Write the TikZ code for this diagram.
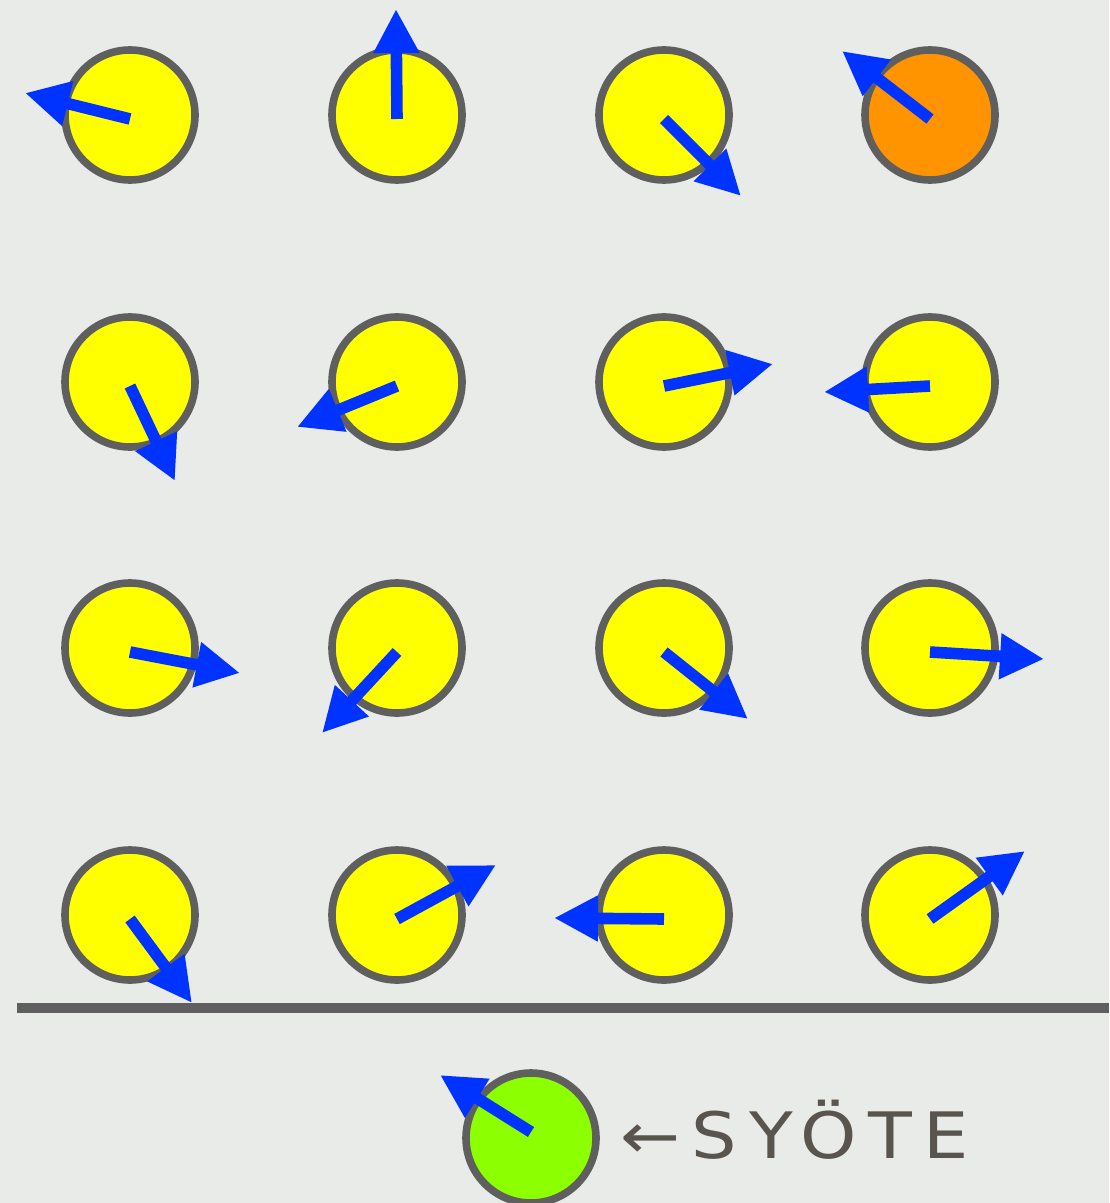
\documentclass[tikz,border=0pt]{standalone}
\usepackage{fontspec}
\usetikzlibrary{arrows.meta}
\newfontfamily\notefont{DejaVu Sans}[LetterSpace=18, FakeStretch=1.12]
\definecolor{PaperGrey}{HTML}{E9EBE9}
\definecolor{RimGrey}{HTML}{5F5F5F}
\definecolor{SpinYellow}{HTML}{FFFF00}
\definecolor{SpinOrange}{HTML}{FF9400}
\definecolor{SpinGreen}{HTML}{8CFF00}
\definecolor{SpinBlue}{HTML}{0033FF}
\definecolor{InkBrown}{HTML}{5A544E}

\begin{document}
\begin{tikzpicture}[
  x=0.5pt, y=-0.5pt,
  ball/.style={
    circle, draw=RimGrey, line width=3.8pt, fill=SpinYellow,
    minimum size=65pt, inner sep=0pt
  },
  vec/.style={-{Triangle[length=22pt, width=21.5pt]}, SpinBlue, line width=5.8pt}
]
  \fill[PaperGrey] (0,0) rectangle (1109,1203);
  \useasboundingbox (0,0) rectangle (1109,1203);

  % grid of units
  \node[ball] (b11) at (130,115) {};
  \node[ball] (b12) at (397,115) {};
  \node[ball] (b13) at (664,115) {};
  \node[ball, fill=SpinOrange] (b14) at (930,115) {};
  \node[ball] (b21) at (130,382) {};
  \node[ball] (b22) at (397,382) {};
  \node[ball] (b23) at (664,382) {};
  \node[ball] (b24) at (930,382) {};
  \node[ball] (b31) at (130,648) {};
  \node[ball] (b32) at (397,648) {};
  \node[ball] (b33) at (664,648) {};
  \node[ball] (b34) at (930,648) {};
  \node[ball] (b41) at (130,915) {};
  \node[ball] (b42) at (397,915) {};
  \node[ball] (b43) at (664,915) {};
  \node[ball] (b44) at (930,915) {};

  % input unit
  \node[ball, fill=SpinGreen] (inp) at (531,1138) {};
  \node[anchor=base west, text=InkBrown, inner sep=0pt] (syote) at (620,1158)
    {\notefont\fontsize{32}{38}\selectfont ←SYÖTE};

  % separator
  \coordinate (sepL) at (17,1008);
  \coordinate (sepR) at (1109,1008);
  \draw[RimGrey, line width=5pt] (sepL) -- (sepR);

  % arrow tips
  \coordinate (t11) at (25,93);
  \coordinate (t12) at (396,9);
  \coordinate (t13) at (741,196);
  \coordinate (t14) at (842,51);
  \coordinate (t21) at (175,481);
  \coordinate (t22) at (297,427);
  \coordinate (t23) at (773,364);
  \coordinate (t24) at (824,392);
  \coordinate (t31) at (240,673);
  \coordinate (t32) at (322,733);
  \coordinate (t33) at (748,719);
  \coordinate (t34) at (1044,659);
  \coordinate (t41) at (192,1003);
  \coordinate (t42) at (496,865);
  \coordinate (t43) at (554,918);
  \coordinate (t44) at (1025,851);
  \coordinate (tin) at (440,1075);

  \draw[vec] ([yshift=-2pt]b11.center) -- (t11);
  \draw[vec] ([yshift=-2pt]b12.center) -- (t12);
  \draw[vec] ([yshift=-2pt]b13.center) -- (t13);
  \draw[vec] ([yshift=-2pt]b14.center) -- (t14);
  \draw[vec] ([yshift=-2pt]b21.center) -- (t21);
  \draw[vec] ([yshift=-2pt]b22.center) -- (t22);
  \draw[vec] ([yshift=-2pt]b23.center) -- (t23);
  \draw[vec] ([yshift=-2pt]b24.center) -- (t24);
  \draw[vec] ([yshift=-2pt]b31.center) -- (t31);
  \draw[vec] ([yshift=-2pt]b32.center) -- (t32);
  \draw[vec] ([yshift=-2pt]b33.center) -- (t33);
  \draw[vec] ([yshift=-2pt]b34.center) -- (t34);
  \draw[vec] ([yshift=-2pt]b41.center) -- (t41);
  \draw[vec] ([yshift=-2pt]b42.center) -- (t42);
  \draw[vec] ([yshift=-2pt]b43.center) -- (t43);
  \draw[vec] ([yshift=-2pt]b44.center) -- (t44);
  \draw[vec] ([yshift=3pt]inp.center) -- (tin);
\end{tikzpicture}
\end{document}
